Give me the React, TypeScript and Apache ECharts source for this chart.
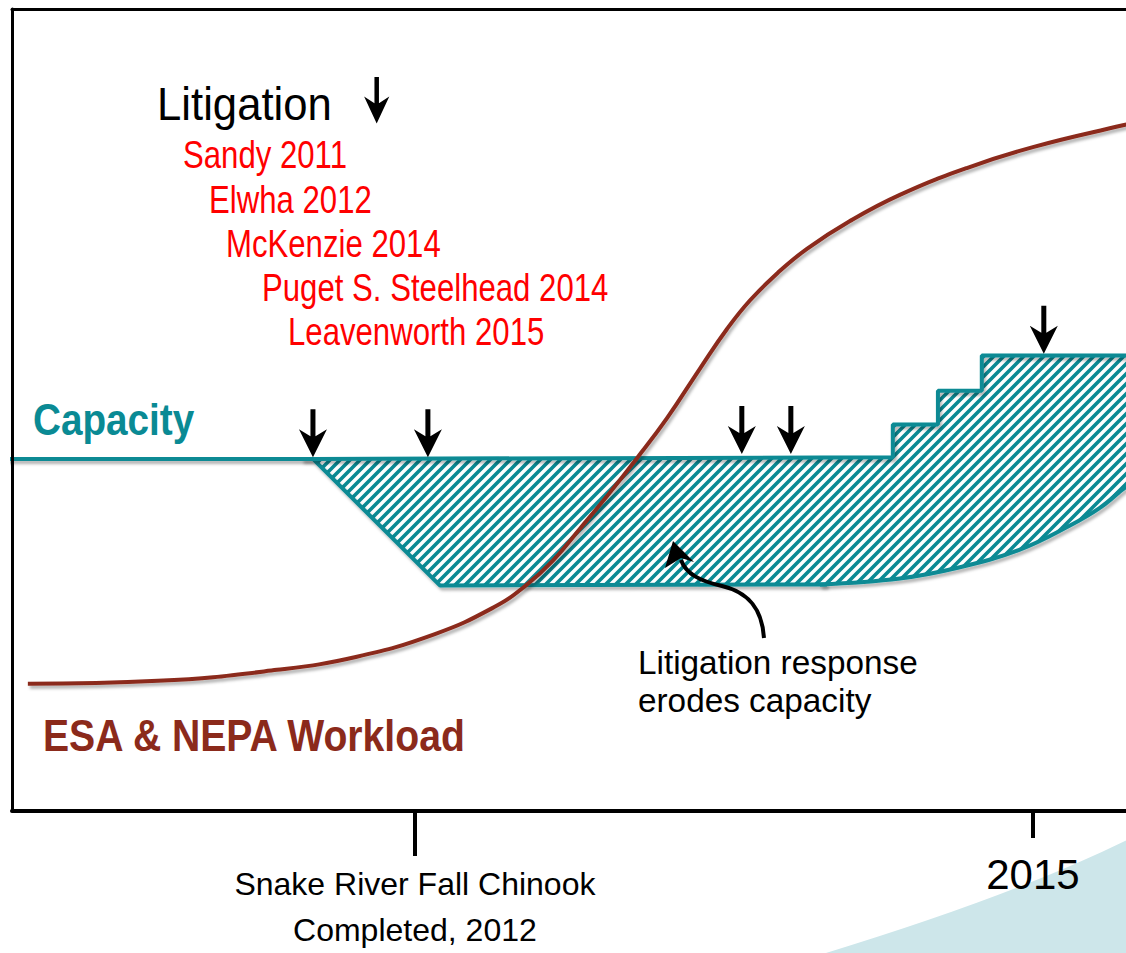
import React, { useEffect, useRef } from "react";
import * as echarts from "echarts";

// ---------- data (x = year, y = relative level 0–100) ----------
const capacityLine: [number, number][] = [
  [2010.0, 43.9], [2011.505, 43.9], [2014.32, 44.1], [2014.32, 48.2],
  [2014.539, 48.2], [2014.539, 52.4], [2014.752, 52.4], [2014.752, 56.8], [2015.6, 56.8],
];
const hatchTop: [number, number][] = [
  [2011.505, 43.9], [2014.32, 44.1], [2014.32, 48.2], [2014.539, 48.2],
  [2014.539, 52.4], [2014.752, 52.4], [2014.752, 56.8], [2015.6, 56.8],
];
const erosionEdge: [number, number][] = [
  [2011.45, 43.9], [2011.505, 43.9], [2012.121, 28.13], [2014.0, 28.25],
];
const erosionCurve: [number, number][] = [
  [2013.966, 28.25], [2014.354, 29.0], [2014.646, 30.4], [2014.937, 32.6],
  [2015.18, 35.6], [2015.325, 37.8], [2015.452, 40.4], [2015.529, 41.6],
];
const workload: [number, number][] = [
  [2010.121, 15.86], [2010.752, 16.23], [2011.33, 17.6], [2011.713, 19.21],
  [2012.097, 22.06], [2012.383, 25.4], [2012.539, 28.13], [2012.67, 31.23],
  [2012.801, 35.2], [2012.937, 39.4], [2013.078, 43.99], [2013.223, 48.95],
  [2013.383, 55.14], [2013.515, 60.1], [2013.626, 63.65], [2013.762, 67.12],
  [2013.903, 70.1], [2014.112, 73.57], [2014.354, 76.83], [2014.679, 80.17],
  [2015.0, 82.78], [2015.437, 85.5], [2015.53, 86.0],
];
const litigationArrows: [number, number][] = [
  [2011.505, 44.1], [2012.063, 44.1], [2013.587, 44.5], [2013.825, 44.5], [2015.053, 57.0],
];
const litigationCases = [
  "Sandy 2011", "Elwha 2012", "McKenzie 2014", "Puget S. Steelhead 2014", "Leavenworth 2015",
];
const tickYears = [2012, 2015];
const tickLabels = ["Snake River Fall Chinook\nCompleted, 2012", "2015"];

// ---------- styling ----------
const X_MIN = 2010.044;
const X_MAX = 2015.452;
const TEAL = "#0A8A94";
const RUST = "#8B2A1B";
const FONT = '"Liberation Sans", Arial, sans-serif';
const caseX = [183, 209, 226, 262, 288];
const caseY = [155, 200, 244, 288, 332];

const ARROW_D = "M10.5 0 L15.5 0 L15.5 27 L27 20 L13 48 L-1 20 L10.5 27 Z";
echarts.graphic.registerShape("downArrow", echarts.graphic.extendPath(ARROW_D, {}));
echarts.graphic.registerShape(
  "bgCurve",
  echarts.graphic.extendPath("M826 953 Q1022 893 1135 836 L1135 953 Z", {})
);
echarts.graphic.registerShape(
  "curvedShaft",
  echarts.graphic.extendPath("M764 638 C762 608 748 592 722 586 C700 581 686 574 681 560", {})
);

const lineShadow = {
  shadowColor: "rgba(0,0,0,0.3)",
  shadowBlur: 3,
  shadowOffsetX: 2,
  shadowOffsetY: 3,
};

function makeHatch(): any {
  const s = 10;
  const c = document.createElement("canvas");
  c.width = s;
  c.height = s;
  const g = c.getContext("2d")!;
  g.fillStyle = "#ffffff";
  g.fillRect(0, 0, s, s);
  g.strokeStyle = TEAL;
  g.lineWidth = 3.6;
  g.lineCap = "square";
  g.beginPath();
  g.moveTo(-s, 2 * s); g.lineTo(2 * s, -s);
  g.moveTo(-2 * s, 2 * s); g.lineTo(s, -s);
  g.moveTo(0, 2 * s); g.lineTo(3 * s, -s);
  g.stroke();
  return { image: c, repeat: "repeat" };
}

function buildOption(): any {
  const textEl = (
    text: string, x: number, y: number, size: number, sx: number, color: string,
    bold = false, shadow = false
  ) => ({
    type: "text",
    x,
    y,
    scaleX: sx,
    z: 50,
    silent: true,
    style: {
      text,
      x: 0,
      y: 0,
      fill: color,
      font: `${bold ? "bold " : ""}${size}px ${FONT}`,
      align: "left",
      verticalAlign: "middle",
      ...(shadow
        ? { shadowColor: "rgba(0,0,0,0.35)", shadowBlur: 3, shadowOffsetX: 2, shadowOffsetY: 3 }
        : {}),
    },
  });

  const graphic: any[] = [
    { type: "bgCurve", x: 0, y: 0, z: -10, silent: true, style: { fill: "#CDE6EA" } },
    textEl("Litigation", 157, 104, 46, 0.95, "#000"),
    { type: "downArrow", x: 365, y: 77, scaleX: 0.9, scaleY: 0.97, z: 50, style: { fill: "#000" } },
    ...litigationCases.map((t, i) => textEl(t, caseX[i], caseY[i], 38, 0.82, "#FF0000")),
    textEl("Capacity", 33, 419, 45, 0.86, TEAL, true, true),
    textEl("ESA & NEPA Workload", 43, 736, 45, 0.87, RUST, true, true),
    textEl("Litigation response", 638, 662, 34, 0.98, "#000"),
    textEl("erodes capacity", 638, 700, 34, 0.98, "#000"),
    {
      type: "curvedShaft",
      x: 0,
      y: 0,
      z: 60,
      style: { stroke: "#000", lineWidth: 4, fill: null },
    },
    {
      type: "polygon",
      z: 60,
      shape: { points: [[673, 541], [694, 562], [681, 558], [665, 568]] },
      style: { fill: "#000" },
    },
  ];

  const hatch = makeHatch();

  return {
    animation: false,
    backgroundColor: "#fff",
    grid: { left: 12, top: 9, right: 0, bottom: 138, show: false },
    xAxis: [
      {
        type: "value",
        min: X_MIN,
        max: X_MAX,
        position: "bottom",
        z: 10,
        axisLine: { show: true, onZero: false, lineStyle: { color: "#000", width: 4 } },
        splitLine: { show: false },
        axisTick: {
          show: true,
          customValues: [tickYears[0]],
          length: 45,
          lineStyle: { color: "#000", width: 4 },
        },
        axisLabel: {
          show: true,
          customValues: [tickYears[0]],
          formatter: () => tickLabels[0],
          margin: 50,
          color: "#000",
          fontFamily: FONT,
          fontSize: 32,
          lineHeight: 46,
        },
      },
      {
        type: "value",
        min: X_MIN,
        max: X_MAX,
        position: "bottom",
        z: 10,
        axisLine: { show: false },
        splitLine: { show: false },
        axisTick: {
          show: true,
          customValues: [tickYears[1]],
          length: 27,
          lineStyle: { color: "#000", width: 4 },
        },
        axisLabel: {
          show: true,
          customValues: [tickYears[1]],
          formatter: () => tickLabels[1],
          margin: 42,
          color: "#000",
          fontFamily: FONT,
          fontSize: 42,
          lineHeight: 42,
        },
      },
      {
        type: "value",
        min: X_MIN,
        max: X_MAX,
        position: "top",
        z: 10,
        axisLine: { show: true, onZero: false, lineStyle: { color: "#000", width: 3 } },
        axisTick: { show: false },
        axisLabel: { show: false },
        splitLine: { show: false },
      },
    ],
    yAxis: {
      type: "value",
      min: 0,
      max: 100,
      position: "left",
      z: 10,
      axisLine: { show: true, onZero: false, lineStyle: { color: "#000", width: 3 } },
      axisTick: { show: false },
      axisLabel: { show: false },
      splitLine: { show: false },
    },
    series: [
      {
        name: "Eroded capacity",
        type: "line",
        data: hatchTop,
        z: 2,
        showSymbol: false,
        symbol: "none",
        lineStyle: { width: 0 },
        itemStyle: { color: TEAL },
        areaStyle: { color: hatch, opacity: 1, origin: "start" },
      },
      {
        name: "Erosion edge",
        type: "line",
        data: erosionEdge,
        z: 3,
        showSymbol: false,
        symbol: "none",
        lineStyle: { color: TEAL, width: 4, ...lineShadow },
        areaStyle: { color: "#ffffff", opacity: 1, origin: "start" },
      },
      {
        name: "Erosion curve",
        type: "line",
        data: erosionCurve,
        z: 3,
        smooth: 0.4,
        showSymbol: false,
        symbol: "none",
        lineStyle: { color: TEAL, width: 4, ...lineShadow },
        areaStyle: { color: "#ffffff", opacity: 1, origin: "start" },
      },
      {
        name: "Capacity",
        type: "line",
        data: capacityLine,
        z: 4,
        showSymbol: false,
        symbol: "none",
        lineStyle: { color: TEAL, width: 4, ...lineShadow },
      },
      {
        name: "ESA & NEPA Workload",
        type: "line",
        data: workload,
        z: 5,
        smooth: 0.45,
        showSymbol: false,
        symbol: "none",
        lineStyle: { color: RUST, width: 4, ...lineShadow },
      },
      {
        name: "Litigation",
        type: "scatter",
        data: litigationArrows,
        z: 6,
        symbol: "path://" + ARROW_D,
        symbolSize: [28, 48],
        symbolOffset: [0, -24],
        itemStyle: { color: "#000", opacity: 1 },
      },
    ],
    graphic,
  };
}

export default function App() {
  const ref = useRef<HTMLDivElement>(null);
  useEffect(() => {
    if (!ref.current) return;
    const chart = echarts.init(ref.current, null, { renderer: "svg" });
    chart.setOption(buildOption());
    return () => chart.dispose();
  }, []);
  return (
    <div
      ref={ref}
      style={{ position: "absolute", left: 0, top: 0, width: 1126, height: 953, background: "#fff" }}
    />
  );
}
